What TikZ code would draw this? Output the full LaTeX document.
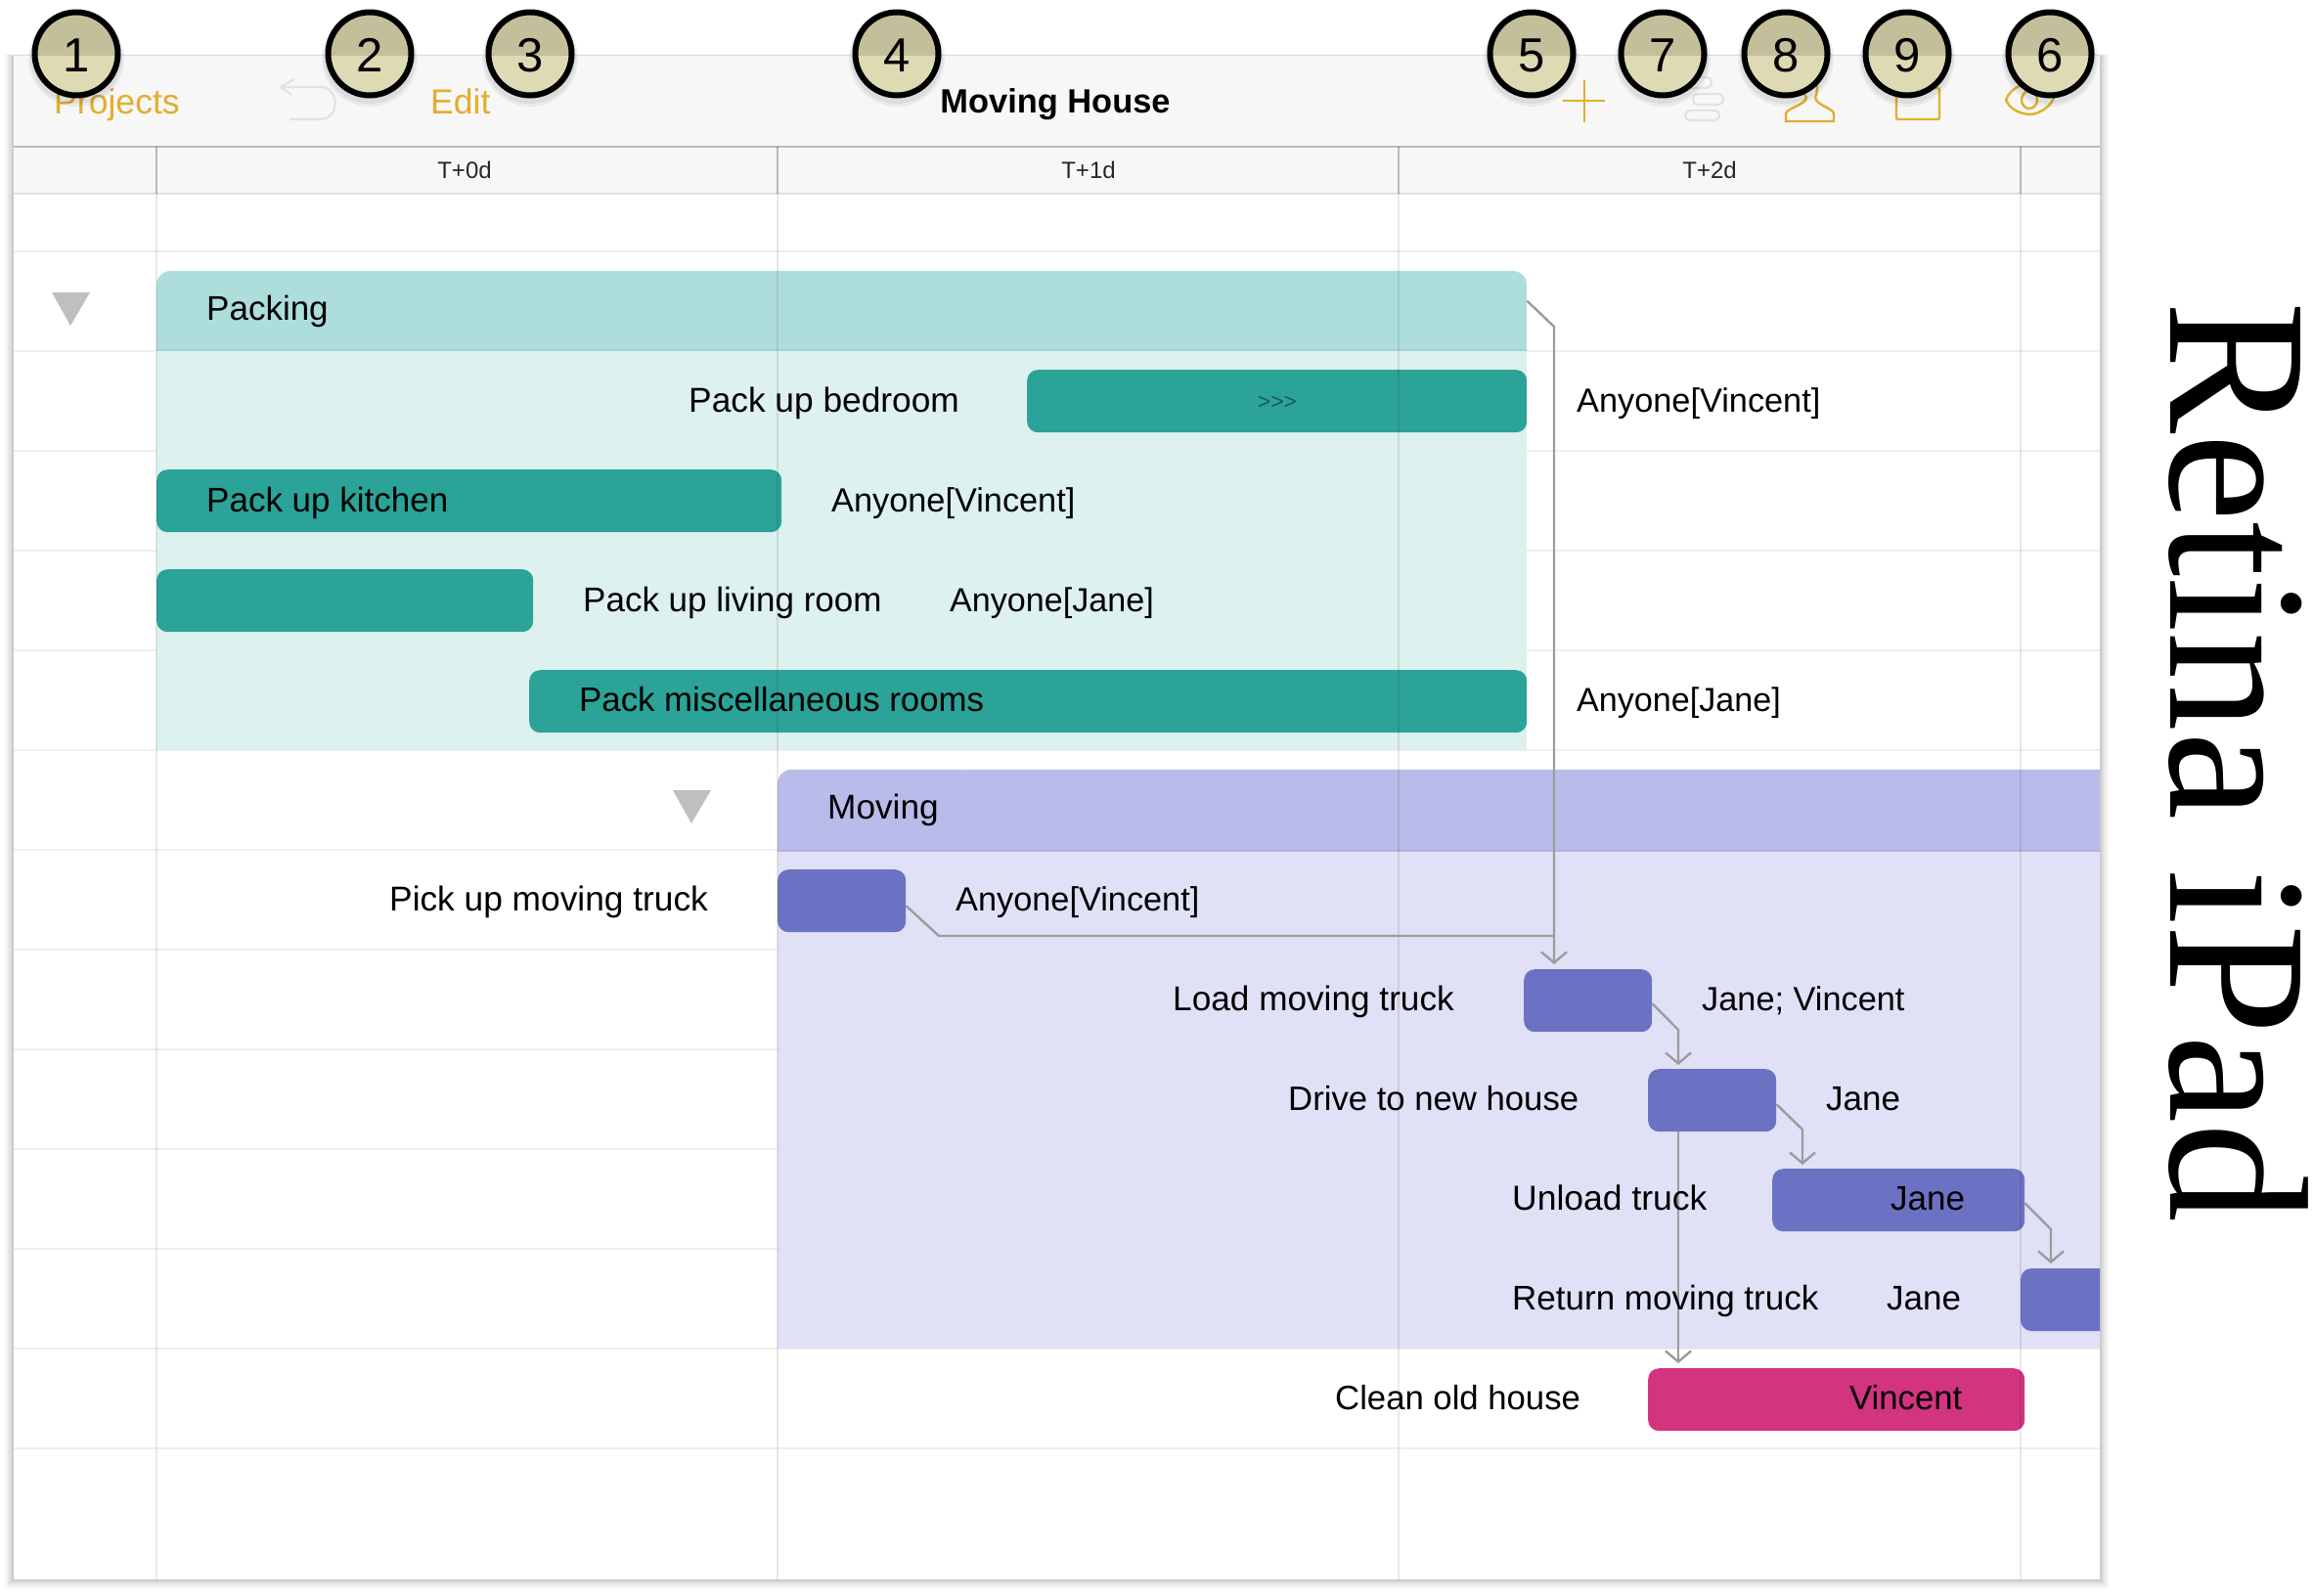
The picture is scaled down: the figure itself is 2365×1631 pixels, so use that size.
\documentclass[tikz,border=0pt]{standalone}
\usepackage{fontspec}
\setmainfont{Liberation Sans}
\newfontfamily\retinafont{Liberation Serif}
\usetikzlibrary{arrows.meta,calc}
\definecolor{tool}{HTML}{F7F7F7}
\definecolor{gold}{HTML}{E3AE2E}
\definecolor{tealhead}{HTML}{ADDEDB}
\definecolor{tealbody}{HTML}{DDF1EF}
\definecolor{tealbar}{HTML}{2BA398}
\definecolor{bluehead}{HTML}{B9BBEA}
\definecolor{bluebody}{HTML}{E0E1F6}
\definecolor{bluebar}{HTML}{6C72C3}
\definecolor{magbar}{HTML}{D3347F}
\definecolor{conncol}{HTML}{9C9C9C}
\definecolor{rowline}{HTML}{EFEFEF}
\definecolor{disabled}{HTML}{E2E2E2}
\definecolor{callhi}{HTML}{C4BF9B}
\definecolor{calllo}{HTML}{DEDAB4}
\tikzset{
  x=1pt,y=-1pt,
  bar/.style={draw=none,rounded corners=11pt,inner sep=0pt,minimum height=64pt,anchor=north west},
  tealb/.style={bar,fill=tealbar},
  blueb/.style={bar,fill=bluebar},
  magb/.style={bar,fill=magbar},
  lbl/.style={anchor=base west,inner sep=0pt,font=\fontsize{#1}{#1}\selectfont,text=black},
  lbl/.default=35,
  hdr/.style={anchor=center,inner sep=0pt,font=\fontsize{24}{24}\selectfont,text=black!85},
  tbtext/.style={anchor=base west,inner sep=0pt,font=\fontsize{35.6}{36}\selectfont,text=gold},
  conn/.style={draw=conncol,line width=2.4pt,-{Straight Barb[length=11pt,width=26pt,line width=2.4pt]}},
  grp/.style={draw=none,inner sep=0pt,anchor=north west},
  icon/.style={draw=gold,line width=2.4pt,fill=none},
  icond/.style={draw=disabled,line width=2.2pt,fill=none},
  tri/.style={fill=black!25,draw=none},
}
\newcommand{\callout}[3]{%
  \fill[black,opacity=.05] (#1,#2+5) circle (49);
  \fill[black,opacity=.06] (#1,#2+4) circle (47);
  \begin{scope}
    \clip (#1,#2) circle (44);
    \fill[calllo] (#1-46,#2-46) rectangle (#1+46,#2+46);
    \fill[callhi] (#1-46,#2-46) rectangle (#1+46,57);
  \end{scope}
  \node[circle,draw=black,line width=6pt,minimum size=85pt,inner sep=0pt] (#3) at (#1,#2) {};
  \node[inner sep=0pt,font=\fontsize{49}{49}\selectfont,text=black] (n#3) at (#1,#2+1.5) {#3};
}
\begin{document}
\begin{tikzpicture}
\useasboundingbox (0,0) rectangle (2365,1631);
\fill[white] (0,0) rectangle (2365,1631);
% panel shadow
\foreach \o/\a in {10/.02,8/.03,6/.04,4/.05,2/.07}{
  \fill[black,opacity=\a] (14-\o,57-\o/6) rectangle (2147+\o,1615+\o);
}
\fill[white] (14,57) rectangle (2147,1615);
\fill[tool] (14,57) rectangle (2147,198);
% row lines
\foreach \k in {0,...,12}{
  \draw[rowline,line width=2pt] (14,257+102*\k) -- (2147,257+102*\k);
}
\draw[black!27,line width=2.5pt] (14,150) -- (2147,150);
\draw[black!12,line width=2.5pt] (14,198) -- (2147,198);
% groups
\fill[tealbody] (160,358) rectangle (1561,767);
\fill[tealhead,rounded corners=14pt] (160,358) -- (160,277) -- (1561,277) -- (1561,358);
\draw[tealhead!95!black,line width=1.5pt] (160,358) -- (1561,358);
\fill[bluebody] (795,870) rectangle (2147,1379);
\fill[bluehead,rounded corners=14pt] (795,870) -- (795,787) -- (1000,787) -- (1000,870);
\fill[bluehead] (990,787) rectangle (2147,870);
\draw[bluehead!95!black,line width=1.5pt] (795,870) -- (2147,870);
\node[grp,minimum width=1401pt,minimum height=81pt] (packing) at (160,277) {};
\node[grp,minimum width=1352pt,minimum height=83pt] (moving) at (795,787) {};
% bars
\node[tealb,minimum width=511pt] (bedroom) at (1050,378) {};
\node[tealb,minimum width=639pt] (kitchen) at (160,480) {};
\node[tealb,minimum width=385pt] (living) at (160,582) {};
\node[tealb,minimum width=1020pt] (misc) at (541,685) {};
\node[blueb,minimum width=131pt] (pickup) at (795,889) {};
\node[blueb,minimum width=131pt] (load) at (1558,991) {};
\node[blueb,minimum width=131pt] (drive) at (1685,1093) {};
\node[blueb,minimum width=258pt] (unload) at (1812,1195) {};
\fill[bluebar,rounded corners=11pt] (2147,1297) -- (2066,1297) -- (2066,1361) -- (2147,1361);
\node[grp,minimum width=81pt,minimum height=64pt] (return) at (2066,1297) {};
\node[magb,minimum width=385pt] (clean) at (1685,1399) {};
% vertical grid
\foreach \x in {160,795,1430,2066}{
  \draw[black,opacity=.09,line width=2pt] (\x,198) -- (\x,1615);
  \draw[black,opacity=.25,line width=2pt] (\x,150) -- (\x,198);
}
% triangles
\fill[tri] (53,299) -- (92,299) -- (72,333) -- cycle;
\fill[tri] (688,808) -- (727,808) -- (707,842) -- cycle;
% connectors
\coordinate (c1) at (1589,334);
\coordinate (c2) at (1716,1053);
\coordinate (c3) at (1843,1155);
\coordinate (c4) at (2097,1257);
\coordinate (c5) at (960,957);
\coordinate (c6) at (1716,1157);
\coordinate (t1) at (1589,986);
\coordinate (t2) at (1716,1089);
\coordinate (t3) at (1843,1191);
\coordinate (t4) at (2097,1292);
\coordinate (t5) at (1716,1394);
\draw[conn] ($(packing.east)+(0,-10)$) -- (c1) -- (t1);
\draw[conn,-] ($(pickup.east)+(0,5)$) -- (c5) -- (c1 |- c5);
\draw[conn] ($(load.east)+(0,3)$) -- (c2) -- (t2);
\draw[conn] ($(drive.east)+(0,4)$) -- (c3) -- (t3);
\draw[conn] ($(unload.east)+(0,3)$) -- (c4) -- (t4);
\draw[conn] (c6) -- (t5);
% labels
\node[lbl] (l1) at (211,327) {Packing};
\node[lbl=35.3] (l2) at (704,421) {Pack up bedroom};
\node[anchor=center,inner sep=0pt,font=\fontsize{23}{23}\selectfont,text=black!45!tealbar] (chev) at (1306,411.5) {>{}>{}>};
\node[lbl=34.3] (l3) at (1612,421) {Anyone[Vincent]};
\node[lbl] (l4) at (211,523) {Pack up kitchen};
\node[lbl=34.3] (l5) at (850,523) {Anyone[Vincent]};
\node[lbl] (l6) at (596,625) {Pack up living room};
\node[lbl=34.1] (l7) at (971,625) {Anyone[Jane]};
\node[lbl=34.8] (l8) at (592,727) {Pack miscellaneous rooms};
\node[lbl=34.1] (l9) at (1612,727) {Anyone[Jane]};
\node[lbl=35.2] (l10) at (846,837) {Moving};
\node[lbl=35.3] (l11) at (398,931) {Pick up moving truck};
\node[lbl=34.3] (l12) at (977,931) {Anyone[Vincent]};
\node[lbl=35.2] (l13) at (1199,1033) {Load moving truck};
\node[lbl=34.3] (l14) at (1740,1033) {Jane; Vincent};
\node[lbl=34.7] (l15) at (1317,1135) {Drive to new house};
\node[lbl] (l16) at (1867,1135) {Jane};
\node[lbl=35.5] (l17) at (1546,1237) {Unload truck};
\node[lbl] (l18) at (1933,1237) {Jane};
\node[lbl] (l19) at (1546,1339) {Return moving truck};
\node[lbl] (l20) at (1929,1339) {Jane};
\node[lbl=34.7] (l21) at (1365,1441) {Clean old house};
\node[lbl=34.7] (l22) at (1891,1441) {Vincent};
% header
\node[hdr] (h0) at (475,174) {T+0d};
\node[hdr] (h1) at (1113,174) {T+1d};
\node[hdr] (h2) at (1748,174) {T+2d};
\node[tbtext] (projects) at (55,116) {Projects};
\node[tbtext] (edit) at (440,116) {Edit};
\node[anchor=base,inner sep=0pt,font=\fontsize{34.4}{35}\selectfont\bfseries,text=black] (title) at (1079,115) {Moving House};
% icons
\draw[icond] (301,81) -- (287,89) -- (298,97);
\draw[icond] (287,89) -- (327,89) .. controls (348,89) and (348,122) .. (327,122) -- (297,122);
\draw[icon] (1598,103) -- (1641,103);
\draw[icon] (1620,82) -- (1620,125);
\draw[icond,rounded corners=5pt] (1718,79) rectangle (1750,90);
\draw[icond,rounded corners=5pt] (1731,96) rectangle (1762,107);
\draw[icond,rounded corners=5pt] (1723,113) rectangle (1758,123);
\draw[icon] (1826,124) -- (1875,124) -- (1875,116) .. controls (1873,110) and (1858,108) .. (1856,100) .. controls (1860,90) and (1858,80) .. (1851,79) .. controls (1842,80) and (1842,92) .. (1847,100) .. controls (1845,108) and (1828,110) .. (1826,116) -- cycle;
\draw[icon,rounded corners=2pt] (1939,90) rectangle (1983,122);
\draw[icon,rounded corners=2pt] (1952,90) -- (1952,81) -- (1971,81) -- (1971,90);
\draw[icon] (2051,102) .. controls (2056,90) and (2068,85) .. (2077,85) .. controls (2088,86) and (2097,92) .. (2100,100) .. controls (2096,110) and (2084,117) .. (2075,117) .. controls (2065,116) and (2055,112) .. (2051,102) -- cycle;
\draw[icon] (2075,102) ellipse (8 and 9);
% callouts
\callout{78}{55}{1}
\callout{378}{55}{2}
\callout{542}{55}{3}
\callout{917}{55}{4}
\callout{1566}{55}{5}
\callout{1700}{55}{7}
\callout{1826}{55}{8}
\callout{1950}{55}{9}
\callout{2096}{55}{6}
% side title
\node[rotate=-90,inner sep=0pt,anchor=center,font=\retinafont\fontsize{203}{203}\selectfont,text=black] (retina) at (2289,779) {Retina iPad};
\end{tikzpicture}
\end{document}
